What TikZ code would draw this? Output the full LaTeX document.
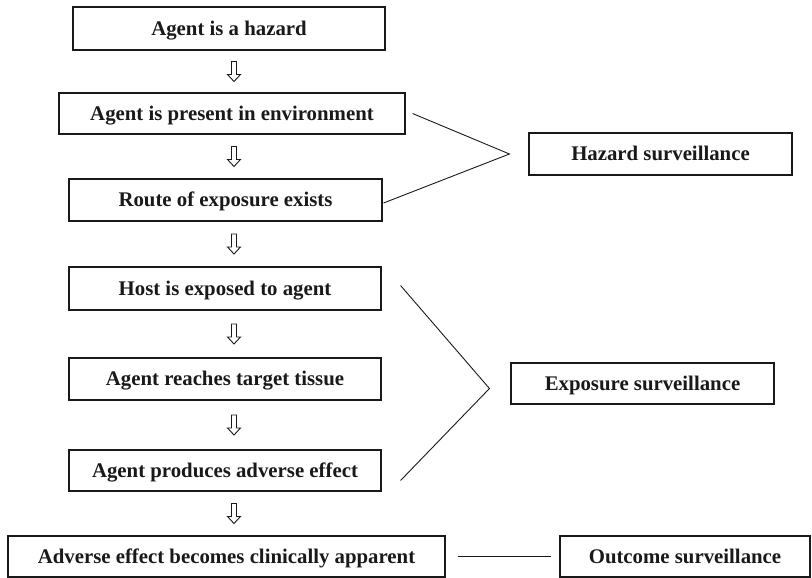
\documentclass[tikz,border=0pt]{standalone}
\usepackage{fontspec}
\setmainfont{Liberation Serif}
\begin{document}
\begin{tikzpicture}[x=1pt,y=-1pt,
  box/.style={draw=black!90, line width=1.1pt, inner sep=0pt, text=black!90,
    text height=18pt, text depth=4.2pt,
    font=\bfseries\fontsize{20.8}{24}\selectfont},
  link/.style={draw=black!90, line width=0.9pt},
  hollowarrow/.pic={\draw[line width=0.9pt, black!90, line join=miter]
    (-2.5,-10) -- (-2.5,3) -- (-6.5,3) -- (0,10) -- (6.5,3) -- (2.5,3) -- (2.5,-10) -- cycle;}]
\useasboundingbox (0,0) rectangle (812,578);
\node[box, minimum width=312, minimum height=43] (b1) at (229,28.5) {Agent is a hazard};
\node[box, minimum width=346, minimum height=41] (b2) at (232,113.5) {Agent is present in environment};
\node[box, minimum width=313, minimum height=42] (b3) at (225.5,200) {Route of exposure exists};
\node[box, minimum width=312, minimum height=43] (b4) at (225,288.5) {Host is exposed to agent};
\node[box, minimum width=312, minimum height=42] (b5) at (225,379) {Agent reaches target tissue};
\node[box, minimum width=312, minimum height=41] (b6) at (225,470.5) {Agent produces adverse effect};
\node[box, minimum width=437, minimum height=41] (b7) at (226.5,556.5) {Adverse effect becomes clinically apparent};
\node[box, minimum width=263, minimum height=42] (haz) at (660.5,154) {Hazard surveillance};
\node[box, minimum width=263, minimum height=41] (exp) at (642.5,383.5) {Exposure surveillance};
\node[box, minimum width=250, minimum height=41] (out) at (685,556.5) {Outcome surveillance};
% vertical hollow arrows between consecutive steps
\coordinate (ax) at (234,0);
\foreach \u/\v in {b1/b2,b2/b3,b3/b4,b4/b5,b5/b6,b6/b7}{
  \path (\u.south) -- (\v.north) coordinate[midway] (m\u);
  \pic at (ax |- m\u) {hollowarrow};
}
% hazard bracket
\coordinate (hapex) at ([xshift=-19]haz.west);
\draw[link] ([xshift=7]b2.east) -- (hapex) -- ([xshift=1,yshift=-3]b3.east);
% exposure bracket
\coordinate (eapex) at ([xshift=-21,yshift=-5]exp.west);
\draw[link] ([xshift=19,yshift=3]b4.east) -- (eapex) -- ([xshift=19,yshift=-10]b6.east);
% outcome link
\draw[link] ([xshift=12]b7.east) -- ([xshift=-8]out.west);
\end{tikzpicture}
\end{document}
